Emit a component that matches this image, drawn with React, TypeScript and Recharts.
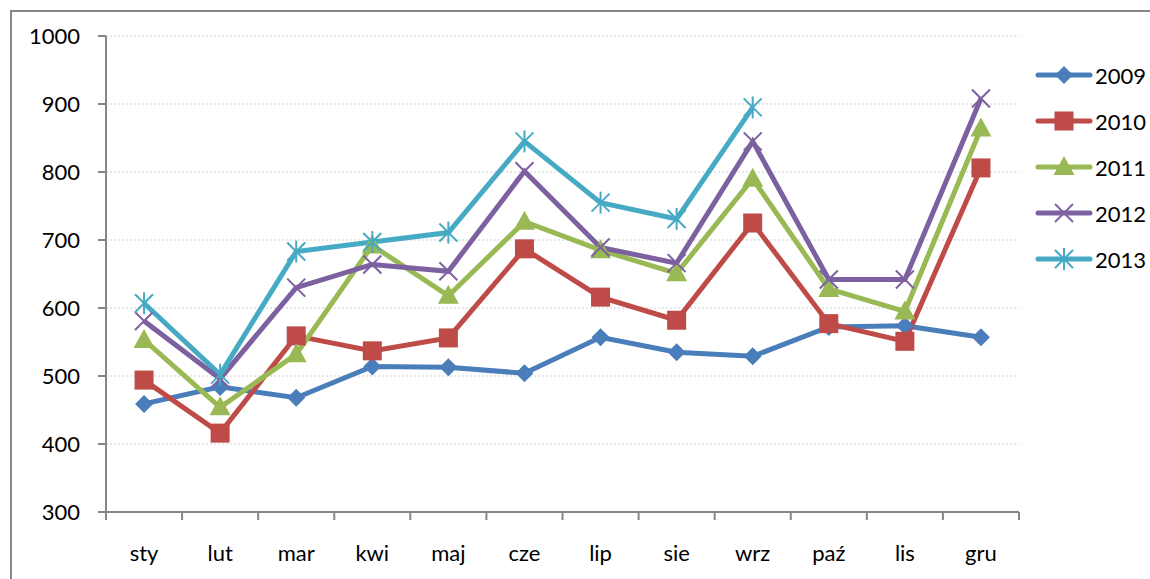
import React from "react";
import { CartesianGrid, Line, LineChart, XAxis, YAxis } from "recharts";

const months = ["sty", "lut", "mar", "kwi", "maj", "cze", "lip", "sie", "wrz", "paź", "lis", "gru"];
const y2009 = [459, 484, 468, 514, 513, 504, 557, 535, 529, 572, 574, 557];
const y2010 = [494, 416, 559, 537, 556, 687, 616, 582, 725, 577, 551, 806];
const y2011 = [553, 454, 532, 692, 618, 727, 685, 651, 790, 628, 595, 864];
const y2012 = [581, 496, 630, 664, 654, 801, 689, 666, 845, 642, 642, 908];
const y2013 = [607, 502, 683, 697, 711, 845, 755, 731, 895, null, null, null];
const yTicks = [300, 400, 500, 600, 700, 800, 900, 1000];

const series = [
  { key: "2009", values: y2009, color: "#4A7EBB", shape: "diamond" },
  { key: "2010", values: y2010, color: "#BE4B48", shape: "square" },
  { key: "2011", values: y2011, color: "#98B954", shape: "triangle" },
  { key: "2012", values: y2012, color: "#7D60A0", shape: "cross" },
  { key: "2013", values: y2013, color: "#46AAC5", shape: "star" },
];

const data = months.map((m, i) => {
  const row: Record<string, number | string | null> = { x: i + 0.5, month: m };
  series.forEach((s) => (row[s.key] = s.values[i]));
  return row;
});

const xTicks = Array.from({ length: 25 }, (_, i) => i / 2);
const FONT = "Lato, 'Open Sans', sans-serif";

function marker(shape: string, cx: number, cy: number, color: string, key?: string | number) {
  switch (shape) {
    case "diamond":
      return (
        <polygon key={key} points={`${cx},${cy - 9} ${cx + 9},${cy} ${cx},${cy + 9} ${cx - 9},${cy}`} fill={color} />
      );
    case "square":
      return <rect key={key} x={cx - 9.5} y={cy - 9.5} width={19} height={19} fill={color} />;
    case "triangle":
      return (
        <polygon key={key} points={`${cx},${cy - 11} ${cx + 10.5},${cy + 8} ${cx - 10.5},${cy + 8}`} fill={color} />
      );
    case "cross":
      return (
        <g key={key} stroke={color} strokeWidth={2}>
          <line x1={cx - 9} y1={cy - 9} x2={cx + 9} y2={cy + 9} />
          <line x1={cx - 9} y1={cy + 9} x2={cx + 9} y2={cy - 9} />
        </g>
      );
    default:
      return (
        <g key={key} stroke={color} strokeWidth={2}>
          <line x1={cx - 9} y1={cy - 9} x2={cx + 9} y2={cy + 9} />
          <line x1={cx - 9} y1={cy + 9} x2={cx + 9} y2={cy - 9} />
          <line x1={cx} y1={cy - 11} x2={cx} y2={cy + 11} />
        </g>
      );
  }
}

const XTick = (props: any) => {
  const { x, y, payload } = props;
  const v = payload.value as number;
  if (Number.isInteger(v)) {
    return <line x1={x} y1={y} x2={x} y2={y + 8} stroke="#868686" strokeWidth={2} />;
  }
  return (
    <text x={x} y={y + 49} textAnchor="middle" fontSize={22} fontFamily={FONT} fill="#000">
      {months[Math.floor(v)]}
    </text>
  );
};

export default function App() {
  return (
    <div style={{ position: "absolute", left: 0, top: 0, width: 1150, height: 579, background: "#fff", overflow: "hidden" }}>
      <div
        style={{
          position: "absolute",
          left: 10,
          top: 10,
          width: 1160,
          height: 600,
          border: "2px solid #868686",
        }}
      />
      <div style={{ position: "absolute", left: 0, top: 0 }}>
        <LineChart width={1150} height={579} data={data} margin={{ top: 36, right: 131, bottom: 0, left: 0 }}>
          <CartesianGrid vertical={false} stroke="#d0d0d0" strokeDasharray="2 2" />
          <XAxis
            dataKey="x"
            type="number"
            domain={[0, 12]}
            ticks={xTicks}
            interval={0}
            height={67}
            tick={<XTick />}
            tickLine={false}
            tickSize={0}
            tickMargin={0}
            axisLine={{ stroke: "#868686", strokeWidth: 2 }}
          />
          <YAxis
            domain={[300, 1000]}
            ticks={yTicks}
            interval={0}
            width={106}
            tickSize={8}
            tickMargin={18}
            axisLine={{ stroke: "#868686", strokeWidth: 2 }}
            tickLine={{ stroke: "#868686", strokeWidth: 2 }}
            tick={{ fontSize: 22, fontFamily: FONT, fill: "#000" }}
          />
          {series.map((s) => (
            <Line
              key={s.key}
              dataKey={s.key}
              stroke={s.color}
              strokeWidth={5}
              isAnimationActive={false}
              connectNulls={false}
              activeDot={false}
              dot={(p: any) =>
                p.cy == null || p.value == null ? <g key={p.index} /> : marker(s.shape, p.cx, p.cy, s.color, p.index)
              }
            />
          ))}
        </LineChart>
      </div>
      {series.map((s, i) => (
        <div
          key={s.key}
          style={{ position: "absolute", left: 1035, top: 75 + i * 46 - 15, height: 30, display: "flex", alignItems: "center" }}
        >
          <svg width={58} height={30}>
            <line x1={3} y1={15} x2={55} y2={15} stroke={s.color} strokeWidth={5} strokeLinecap="round" />
            {marker(s.shape, 29, 15, s.color)}
          </svg>
          <span style={{ fontFamily: FONT, fontSize: 22, marginLeft: 2, color: "#000" }}>{s.key}</span>
        </div>
      ))}
    </div>
  );
}
